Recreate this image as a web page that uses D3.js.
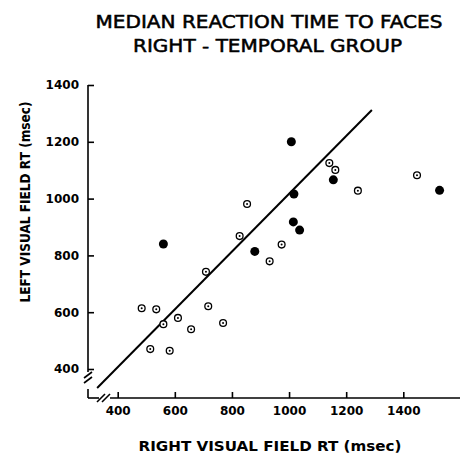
<!DOCTYPE html>
<html>
<head>
<meta charset="utf-8">
<script src="https://cdn.jsdelivr.net/npm/d3@7"></script>
<style>
  body { margin: 0; background: #fff; }
  text { font-family: "DejaVu Sans", sans-serif; fill: #000; }
</style>
</head>
<body>
<div id="chart"></div>
<script>
// Median reaction time to faces, right-temporal group
// values in msec: right visual field RT (x), left visual field RT (y)

const titleLines = ['MEDIAN REACTION TIME TO FACES', 'RIGHT - TEMPORAL GROUP'];
const xTicks = [400, 600, 800, 1000, 1200, 1400];
const yTicks = [400, 600, 800, 1000, 1200, 1400];

// filled circles
const filledX = [560, 880, 1008, 1017, 1015, 1037, 1155, 1527];
const filledY = [840, 814, 1200, 1016, 918, 889, 1066, 1029];

// dotted rings
const ringX = [484, 535, 560, 514, 582, 611, 657, 709, 717, 769, 827, 853, 932, 974, 1141, 1162, 1241, 1448];
const ringY = [614, 610, 558, 470, 464, 580, 540, 742, 621, 562, 868, 981, 779, 838, 1125, 1101, 1028, 1082];

// fitted line end points
const fitX = [328, 1290];
const fitY = [333, 1312];

const width = 460, height = 456;

const svg = d3.select('#chart')
    .append('svg')
    .attr('width', width)
    .attr('height', height);

const x = d3.scaleLinear().domain([400, 1400]).range([117.7, 403.3]);
const y = d3.scaleLinear().domain([400, 1400]).range([369, 85]);

const originX = 88, originY = 398;

// title
svg.selectAll('.title')
    .data(titleLines)
    .enter()
    .append('text')
    .attr('class', 'title')
    .attr('x', (d, i) => i === 0 ? 269 : 267.5)
    .attr('y', (d, i) => i === 0 ? 28 : 52)
    .attr('text-anchor', 'middle')
    .attr('textLength', (d, i) => i === 0 ? 347 : 269)
    .attr('lengthAdjust', 'spacingAndGlyphs')
    .style('font-size', '17px')
    .style('stroke', '#000')
    .style('stroke-width', 0.5)
    .text(d => d);

// axes: domain lines drawn by hand so the breaks can be shown
const axisStyle = g => g.selectAll('path, line').attr('stroke', '#000').attr('stroke-width', 1.6);

const xAxis = svg.append('g')
    .attr('transform', `translate(0,${originY})`)
    .call(d3.axisBottom(x).tickValues(xTicks).tickFormat(d3.format('d'))
        .tickSizeInner(-6).tickSizeOuter(0).tickPadding(8));
xAxis.select('.domain').remove();
xAxis.call(axisStyle);
xAxis.selectAll('text')
    .style('font-size', '12px')
    .style('font-weight', 'bold')
    .style('font-family', '"DejaVu Sans", sans-serif');

const yAxis = svg.append('g')
    .attr('transform', `translate(${originX},0)`)
    .call(d3.axisLeft(y).tickValues(yTicks).tickFormat(d3.format('d'))
        .tickSizeInner(-6).tickSizeOuter(0).tickPadding(9));
yAxis.select('.domain').remove();
yAxis.call(axisStyle);
yAxis.selectAll('text')
    .style('font-size', '12px')
    .style('font-weight', 'bold')
    .style('font-family', '"DejaVu Sans", sans-serif');

const lines = [
    // y axis, with a break near the bottom
    [originX, 85, originX, 372],
    [originX, 389, originX, originY],
    // x axis, with a break near the origin
    [originX, originY, 99, originY],
    [110, originY, 460, originY],
    // y break marks
    [84, 378, 92, 372],
    [84, 383, 92, 377],
    // x break marks
    [97, 402, 105, 394],
    [102, 402, 110, 394]
];
svg.selectAll('.axis-line')
    .data(lines)
    .enter()
    .append('line')
    .attr('class', 'axis-line')
    .attr('x1', d => d[0]).attr('y1', d => d[1])
    .attr('x2', d => d[2]).attr('y2', d => d[3])
    .attr('stroke', '#000')
    .attr('stroke-width', 1.6);

// axis labels
svg.append('text')
    .attr('x', 270)
    .attr('y', 451)
    .attr('text-anchor', 'middle')
    .attr('textLength', 263)
    .attr('lengthAdjust', 'spacingAndGlyphs')
    .style('font-size', '14px')
    .style('font-weight', 'bold')
    .text('RIGHT VISUAL FIELD RT (msec)');

svg.append('text')
    .attr('transform', 'translate(30,202) rotate(-90)')
    .attr('text-anchor', 'middle')
    .attr('textLength', 201)
    .attr('lengthAdjust', 'spacingAndGlyphs')
    .style('font-size', '14px')
    .style('font-weight', 'bold')
    .text('LEFT VISUAL FIELD RT (msec)');

// fitted line
svg.append('line')
    .attr('x1', x(fitX[0])).attr('y1', y(fitY[0]))
    .attr('x2', x(fitX[1])).attr('y2', y(fitY[1]))
    .attr('stroke', '#000')
    .attr('stroke-width', 2);

// rings with a centre dot
const rings = ringX.map((v, i) => ({x: v, y: ringY[i]}));
svg.selectAll('.ring')
    .data(rings)
    .enter()
    .append('circle')
    .attr('class', 'ring')
    .attr('cx', d => x(d.x))
    .attr('cy', d => y(d.y))
    .attr('r', 3.4)
    .attr('fill', '#fff')
    .attr('stroke', '#000')
    .attr('stroke-width', 1.3);

svg.selectAll('.ring-dot')
    .data(rings)
    .enter()
    .append('circle')
    .attr('class', 'ring-dot')
    .attr('cx', d => x(d.x))
    .attr('cy', d => y(d.y))
    .attr('r', 1)
    .attr('fill', '#000');

// filled points
const filled = filledX.map((v, i) => ({x: v, y: filledY[i]}));
svg.selectAll('.dot')
    .data(filled)
    .enter()
    .append('circle')
    .attr('class', 'dot')
    .attr('cx', d => x(d.x))
    .attr('cy', d => y(d.y))
    .attr('r', 4.5)
    .attr('fill', '#000');
</script>
</body>
</html>
